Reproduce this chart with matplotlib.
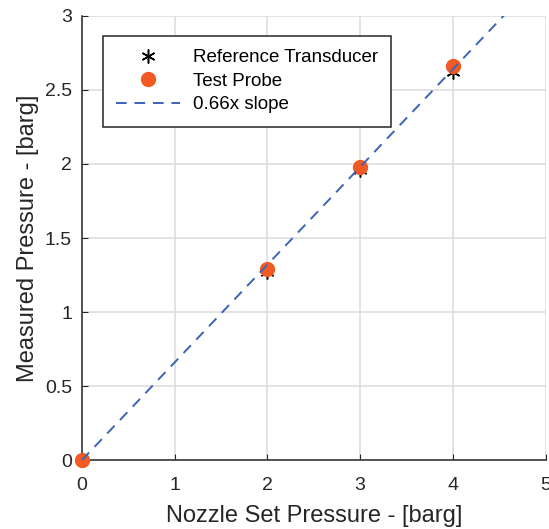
import numpy as np
import matplotlib.pyplot as plt

plt.rcParams['font.family'] = ['Liberation Sans', 'DejaVu Sans']

set_p = [0, 2, 3, 4]
ref_p = [0, 1.27, 1.96, 2.62]
probe_p = [0, 1.29, 1.98, 2.66]
slope = 0.66

fig = plt.figure(figsize=(5.49, 5.29), dpi=100)
ax = fig.add_axes([0.149, 0.130, 0.845, 0.840])

ax.plot(set_p, ref_p, marker=(6, 2, 0), ls='none', color='k', markersize=10, markeredgewidth=1.1,
        label='Reference Transducer', clip_on=False, zorder=3)
ax.plot(set_p, probe_p, 'o', color='#f15a22', markersize=10, label='Test Probe', clip_on=False, zorder=4)
xl = np.array([0, 5])
ax.plot(xl, slope*xl, '--', color='#3b63b8', lw=1.4, dashes=(5.5, 4), label='0.66x slope', zorder=5)

ax.set_xlim(0, 5)
ax.set_ylim(0, 3)
ax.set_xticks([0, 1, 2, 3, 4, 5])
ax.set_yticks([0, 0.5, 1, 1.5, 2, 2.5, 3])
ax.set_yticklabels(['0', '0.5', '1', '1.5', '2', '2.5', '3'])
ax.grid(True, color='#dedede', lw=1.2)
ax.set_axisbelow(True)
ax.spines['top'].set_visible(False)
ax.spines['right'].set_visible(False)
for s in ['left', 'bottom']:
    ax.spines[s].set_linewidth(1.1)
    ax.spines[s].set_color('#262626')
ax.tick_params(direction='in', length=4, labelsize=14, colors='#262626')
ax.tick_params(axis='x', pad=12)
ax.tick_params(axis='y', pad=7)
ax.set_xlabel('Nozzle Set Pressure - [barg]', fontsize=17, color='#262626', labelpad=8)
ax.set_ylabel('Measured Pressure - [barg]', fontsize=17, color='#262626', labelpad=4)

leg = ax.legend(loc='upper left', bbox_to_anchor=(0.045, 0.955), borderaxespad=0, fontsize=13.5,
                fancybox=False, edgecolor='#262626', framealpha=1, handlelength=3.4,
                handletextpad=0.7, labelspacing=0.35, borderpad=0.7)
leg.get_frame().set_linewidth(1.1)

fig.savefig('out.png', dpi=100)
